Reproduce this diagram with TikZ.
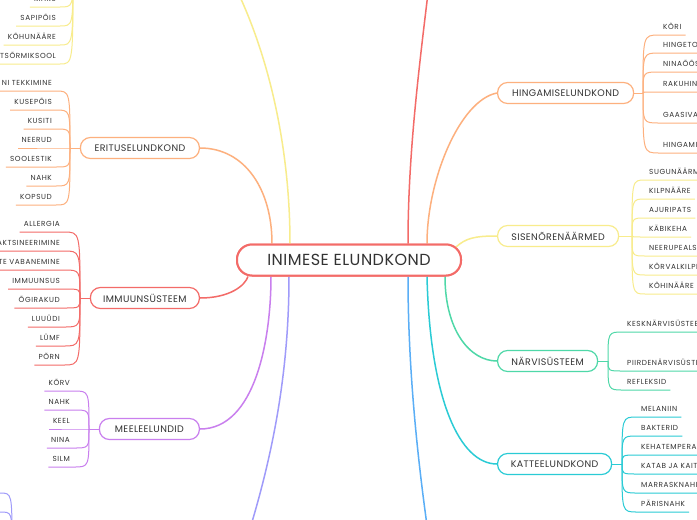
\documentclass[tikz,border=0pt]{standalone}
\usepackage{fontspec}
\setmainfont{Poppins}
\newfontfamily\rootfont[LetterSpace=3]{Poppins}
\newfontfamily\topicfont[LetterSpace=4]{Poppins}
\newfontfamily\leaffont[LetterSpace=8]{Poppins}
\usetikzlibrary{calc}

\definecolor{ink}{HTML}{333333}
\definecolor{cRed}{HTML}{F36B68}
\definecolor{cOrange}{HTML}{FDB07E}
\definecolor{cYellow}{HTML}{F8EC8C}
\definecolor{cPurple}{HTML}{C97FEE}
\definecolor{cLav}{HTML}{9F9BFA}
\definecolor{cGreen}{HTML}{4FD8A8}
\definecolor{cCyan}{HTML}{2ACBD5}
\definecolor{cBlue}{HTML}{5AAEF6}

\begin{document}
\begin{tikzpicture}[x=1pt,y=-1pt,
  root/.style={draw=cRed,line width=2pt,rounded corners=15pt,fill=white,
    minimum width=224pt,minimum height=31pt,text=ink,
    font=\rootfont\fontsize{16}{16}\selectfont},
  topic/.style={draw=#1,line width=1.2pt,rounded corners=10pt,fill=white,
    minimum height=21pt,text=ink,font=\topicfont\fontsize{9.5}{10}\selectfont},
  leaf/.style={inner xsep=4pt,inner ysep=5pt,text depth=0pt,text=ink,
    font=\leaffont\fontsize{7.3}{8}\selectfont},
  link/.style={draw=#1,line width=1.5pt},
  twig/.style={draw=#1,line width=1pt}]
  \clip (0,0) rectangle (697,520);
  \fill[white] (0,0) rectangle (697,520);

  % links to the main node
  \coordinate (seede-in) at (215,-50);
  \coordinate (verer-in) at (432,-40);
  \coordinate (lilla-in) at (240,560);
  \coordinate (sinine-in) at (432,560);
  \node[root] (root) at (349,260) {};
  \node[topic=cOrange,minimum width=119pt,anchor=east] (eritus) at (200,148) {ERITUSELUNDKOND};
  \node[topic=cRed,minimum width=109pt,anchor=east] (immuun) at (200,298) {IMMUUNSÜSTEEM};
  \node[topic=cPurple,minimum width=100pt,anchor=east] (meel) at (200,429) {MEELEELUNDID};
  \node[topic=cOrange,minimum width=136pt,anchor=west] (hingamine) at (497,93) {HINGAMISELUNDKOND};
  \node[topic=cYellow,minimum width=121pt,anchor=west] (sisen) at (497,236) {SISENÕRENÄÄRMED};
  \node[topic=cGreen,minimum width=100pt,anchor=west] (narvi) at (497,361) {NÄRVISÜSTEEM};
  \node[topic=cCyan,minimum width=114pt,anchor=west] (kate) at (497,464) {KATTEELUNDKOND};

  \draw[link=cYellow] ($(root.north)+(-59,0)$) .. controls +(0,-104) and +(50,80) .. (seede-in);
  \draw[link=cOrange] ($(root.north)+(-77,0)$) .. controls +(0,-54) and +(45,0) .. (eritus.east);
  \draw[link=cRed] ($(root.north)+(59,0)$) .. controls +(0,-94) and +(-12,100) .. (verer-in);
  \draw[link=cOrange] ($(root.north)+(78,0)$) .. controls +(0,-64) and +(-37,7) .. (hingamine.west);
  \draw[link=cYellow] ($(root.east)+(-6,-13)$) .. controls +(10,-9) and +(-22,0) .. (sisen.west);
  \draw[link=cRed] ($(root.south)+(-101,0)$) .. controls +(-3,9) and +(30,0) .. (immuun.east);
  \draw[link=cPurple] ($(root.south)+(-78,0)$) .. controls +(0,64) and +(55,0) .. (meel.east);
  \draw[link=cLav] ($(root.south)+(-60,0)$) .. controls +(0,104) and +(30,-90) .. (lilla-in);
  \draw[link=cBlue] ($(root.south)+(59,0)$) .. controls +(0,104) and +(-12,-80) .. (sinine-in);
  \draw[link=cGreen] ($(root.south)+(96,0)$) .. controls +(0,54) and +(-27,0) .. (narvi.west);
  \draw[link=cCyan] ($(root.south)+(78,0)$) .. controls +(3,124) and +(-37,0) .. (kate.west);
  \node[root] at (root) {INIMESE ELUNDKOND};

  % left leaves
  \coordinate (seede-hub) at (73,-30);
  \foreach \txt [count=\i] in {MAKS,SAPIPÕIS,KÕHUNÄÄRE,STSÕRMIKSOOL}{
    \node[leaf,anchor=south east] (seede-\i) at (60,-12+19*\i) {\txt};
    \draw[twig=cYellow] (seede-hub) .. controls (seede-hub |- seede-\i.south) .. (seede-\i.south east) -- (seede-\i.south west);
  }
  \coordinate (eritus-hub) at (70,148);
  \draw[twig=cOrange] (eritus.west) -- (eritus-hub);
  \foreach \txt [count=\i] in {NI TEKKIMINE,KUSEPÕIS,KUSITI,NEERUD,SOOLESTIK,NAHK,KOPSUD}{
    \node[leaf,anchor=south east] (eritus-\i) at (56,72+19*\i) {\txt};
    \draw[twig=cOrange] (eritus-hub) .. controls (eritus-hub |- eritus-\i.south) .. (eritus-\i.south east) -- (eritus-\i.south west);
  }
  \coordinate (immuun-hub) at (80,298);
  \draw[twig=cRed] (immuun.west) -- (immuun-hub);
  \foreach \txt [count=\i] in {ALLERGIA,AKTSINEERIMINE,LTE VABANEMINE,IMMUUNSUS,ÕGIRAKUD,LUUÜDI,LÜMF,PÕRN}{
    \node[leaf,anchor=south east] (immuun-\i) at (64,213+19*\i) {\txt};
    \draw[twig=cRed] (immuun-hub) .. controls (immuun-hub |- immuun-\i.south) .. (immuun-\i.south east) -- (immuun-\i.south west);
  }
  \coordinate (meel-hub) at (89,429);
  \draw[twig=cPurple] (meel.west) -- (meel-hub);
  \foreach \txt [count=\i] in {KÕRV,NAHK,KEEL,NINA,SILM}{
    \node[leaf,anchor=south east] (meel-\i) at (74,372+19*\i) {\txt};
    \draw[twig=cPurple] (meel-hub) .. controls (meel-hub |- meel-\i.south) .. (meel-\i.south east) -- (meel-\i.south west);
  }
  \coordinate (lilla-hub) at (12,545);
  \coordinate (lilla-1) at (0,493);
  \coordinate (lilla-2) at (0,512);
  \draw[twig=cLav] (lilla-hub) .. controls (lilla-hub |- lilla-1) .. (lilla-1);
  \draw[twig=cLav] (lilla-hub) .. controls (lilla-hub |- lilla-2) .. (lilla-2);

  % right leaves
  \coordinate (hingamine-hub) at (643,93);
  \draw[twig=cOrange] (hingamine.east) -- (hingamine-hub);
  \foreach \txt/\yy [count=\i] in {KÕRI/35,HINGETO/53,NINAÕÕS/72,RAKUHIN/92,GAASIVA/123,HINGAMI/153}{
    \node[leaf,anchor=south west] (hingamine-\i) at (659,\yy) {\txt};
    \draw[twig=cOrange] (hingamine-hub) .. controls (hingamine-hub |- hingamine-\i.south) .. (hingamine-\i.south west) -- (hingamine-\i.south east);
  }
  \coordinate (sisen-hub) at (632,236);
  \draw[twig=cYellow] (sisen.east) -- (sisen-hub);
  \foreach \txt [count=\i] in {SUGUNÄÄRME,KILPNÄÄRE,AJURIPATS,KÄBIKEHA,NEERUPEALSI,KÕRVALKILPN,KÕHINÄÄRE}{
    \node[leaf,anchor=south west] (sisen-\i) at (645,161+19*\i) {\txt};
    \draw[twig=cYellow] (sisen-hub) .. controls (sisen-hub |- sisen-\i.south) .. (sisen-\i.south west) -- (sisen-\i.south east);
  }
  \coordinate (narvi-hub) at (608,361);
  \draw[twig=cGreen] (narvi.east) -- (narvi-hub);
  \foreach \txt/\yy [count=\i] in {KESKNÄRVISÜSTEE/332,PIIRDENÄRVISÜSTE/371,REFLEKSID/390}{
    \node[leaf,anchor=south west] (narvi-\i) at (623,\yy) {\txt};
    \draw[twig=cGreen] (narvi-hub) .. controls (narvi-hub |- narvi-\i.south) .. (narvi-\i.south west) -- (narvi-\i.south east);
  }
  \coordinate (kate-hub) at (622,464);
  \draw[twig=cCyan] (kate.east) -- (kate-hub);
  \foreach \txt [count=\i] in {MELANIIN,BAKTERID,KEHATEMPERAT,KATAB JA KAITS,MARRASKNAHK,PÄRISNAHK}{
    \node[leaf,anchor=south west] (kate-\i) at (637,398+19*\i) {\txt};
    \draw[twig=cCyan] (kate-hub) .. controls (kate-hub |- kate-\i.south) .. (kate-\i.south west) -- (kate-\i.south east);
  }
\end{tikzpicture}
\end{document}
